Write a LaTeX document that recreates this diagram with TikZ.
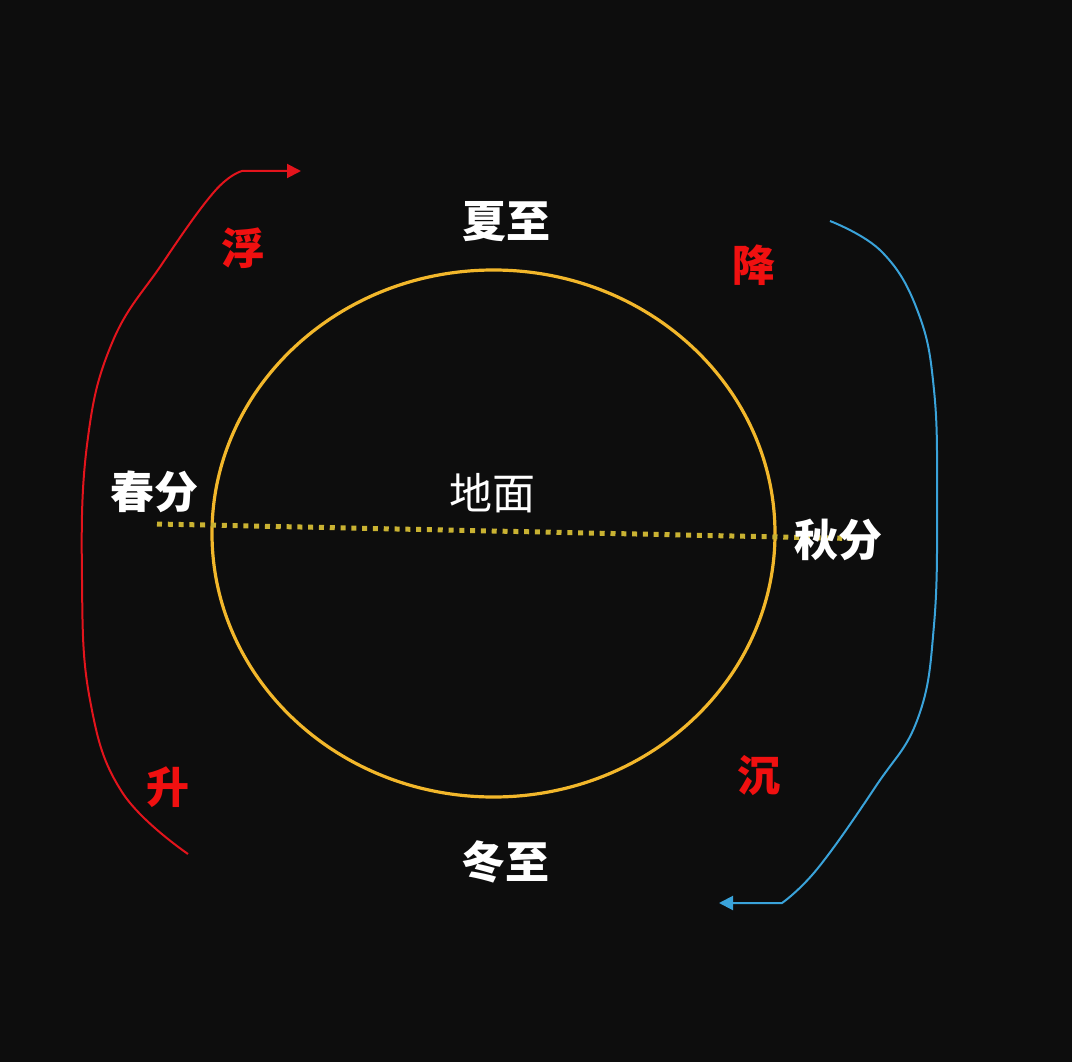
\documentclass[tikz,border=0pt]{standalone}
\usepackage{fontspec}
\newfontfamily\cjk{Noto Sans CJK SC}
\usetikzlibrary{arrows.meta}
\definecolor{bgc}{HTML}{0D0D0D}
\definecolor{ring}{HTML}{F2B72B}
\definecolor{dotc}{HTML}{C9B232}
\definecolor{redc}{HTML}{E3141C}
\definecolor{bluec}{HTML}{3AA3DA}
\definecolor{redtxt}{HTML}{F01010}
\tikzset{
  season/.style={text=white, font=\cjk\bfseries\fontsize{44}{48}\selectfont, inner sep=0pt},
  motion/.style={text=redtxt, font=\cjk\bfseries\fontsize{43}{48}\selectfont, inner sep=0pt},
  ground/.style={text=white, font=\cjk\fontsize{43}{48}\selectfont, inner sep=0pt},
  redarrow/.style={draw=redc, line width=2pt, -{Triangle[length=14pt,width=14pt]}},
  bluearrow/.style={draw=bluec, line width=2pt, -{Triangle[length=14pt,width=14pt]}},
}
\begin{document}
\begin{tikzpicture}[x=1pt,y=-1pt]
\fill[bgc] (0,0) rectangle (1072,1062);
\useasboundingbox (0,0) rectangle (1072,1062);
% ring
\draw[ring, line width=3.2pt] (493.5,533.5) ellipse [x radius=281.5, y radius=263.5];
% dotted ground line
\coordinate (dl) at (157,524);
\coordinate (dr) at (852,538.5);
\draw[dotc, line width=5pt, dash pattern=on 5pt off 5.8pt] (dl) -- (dr);
% labels
\node[season] (xiazhi) at (506,222) {夏至};
\node[season] (dongzhi) at (505,862) {冬至};
\node[season] (chunfen) at (154,492) {春分};
\node[season] (qiufen) at (838,540) {秋分};
\node[ground] (dimian) at (492,493) {地面};
\node[motion] (fu) at (243,248) {浮};
\node[motion] (jiang) at (754,265) {降};
\node[motion] (sheng) at (168,787) {升};
\node[motion] (chen) at (759,776) {沉};
% red arrow
\coordinate (rs) at (188,854);
\coordinate (re) at (301,171);
\draw[redarrow] plot[smooth, tension=0.7] coordinates {(rs) (122,792) (90,700) (82,580) (87,445) (112,343) (162,264) (214,192) (242,171)} -- (re);
% blue arrow
\coordinate (bs) at (830,221);
\coordinate (be) at (719,903);
\draw[bluearrow] plot[smooth, tension=0.7] coordinates {(bs) (882,252) (918,312) (934,390) (937,500) (934,625) (918,718) (876,786) (818,868) (782,903)} -- (be);
\end{tikzpicture}
\end{document}
